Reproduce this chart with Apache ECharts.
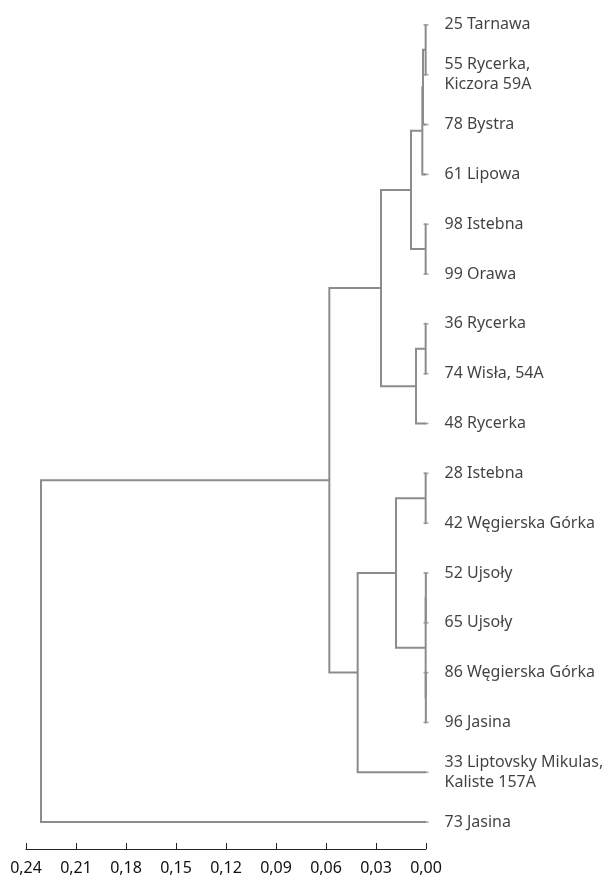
<!DOCTYPE html>
<html>
<head>
<meta charset="utf-8">
<script src="https://cdn.jsdelivr.net/npm/echarts@6/dist/echarts.min.js"></script>
<style>
  html, body { margin: 0; padding: 0; background: #fff; }
  #chart { width: 602px; height: 877px; }
</style>
</head>
<body>
<div id="chart"></div>
<script>
// leaves, top to bottom
var leaves = [
  '25 Tarnawa',
  '55 Rycerka,\nKiczora 59A',
  '78 Bystra',
  '61 Lipowa',
  '98 Istebna',
  '99 Orawa',
  '36 Rycerka',
  '74 Wisła, 54A',
  '48 Rycerka',
  '28 Istebna',
  '42 Węgierska Górka',
  '52 Ujsoły',
  '65 Ujsoły',
  '86 Węgierska Górka',
  '96 Jasina',
  '33 Liptovsky Mikulas,\nKaliste 157A',
  '73 Jasina'
];

// merges (linkage style): ids 0..16 are leaves, merge k becomes node 17 + k
var mergeLeft   = [0, 17, 18, 4, 19, 6, 22, 21, 9, 11, 13, 26, 25, 29, 24, 31];
var mergeRight  = [1, 2, 3, 5, 20, 7, 8, 23, 10, 12, 14, 27, 28, 15, 30, 16];
var mergeHeight = [0.0002, 0.0018, 0.0022, 0.0002, 0.009, 0.0002, 0.006, 0.027,
                   0.0002, 0.0001, 0.0001, 0.0002, 0.018, 0.041, 0.058, 0.231];

var xTicks = [0, 0.03, 0.06, 0.09, 0.12, 0.15, 0.18, 0.21, 0.24];

var lineColor = '#8c8c8c';
var textColor = '#111';
var font = 'Noto Sans';

// node positions: y = leaf order (or midpoint of children), h = merge height
var nodeY = [], nodeH = [];
for (var i = 0; i < leaves.length; i++) { nodeY.push(i); nodeH.push(0); }
var links = [];
for (var k = 0; k < mergeLeft.length; k++) {
  var a = mergeLeft[k], b = mergeRight[k];
  links.push([nodeH[a], nodeY[a], nodeH[b], nodeY[b], mergeHeight[k]]);
  nodeY.push((nodeY[a] + nodeY[b]) / 2);
  nodeH.push(mergeHeight[k]);
}
var leafPoints = leaves.map(function (name, i) { return [0, i]; });

var chart = echarts.init(document.getElementById('chart'));
chart.setOption({
  animation: false,
  grid: { left: 26, right: 176, top: -3, bottom: 28, containLabel: false },
  xAxis: {
    type: 'value',
    position: 'bottom',
    inverse: true,
    min: xTicks[0],
    max: xTicks[xTicks.length - 1],
    interval: 0.03,
    splitLine: { show: false },
    axisLine: { show: true, onZero: false, lineStyle: { color: '#222', width: 1 } },
    axisTick: { show: true, inside: true, length: 6, lineStyle: { color: '#222', width: 1 } },
    axisLabel: {
      color: textColor, fontFamily: font, fontSize: 16, margin: 11,
      formatter: function (v) { return v.toFixed(2).replace('.', ','); }
    }
  },
  yAxis: {
    type: 'value',
    inverse: true,
    min: -0.5,
    max: 16.54,
    show: false
  },
  series: [{
    type: 'custom',
    data: links,
    encode: { x: [0, 2, 4], y: [1, 3] },
    renderItem: function (params, api) {
      var hL = api.value(0), yL = api.value(1), hR = api.value(2), yR = api.value(3), h = api.value(4);
      return {
        type: 'polyline',
        shape: { points: [api.coord([hL, yL]), api.coord([h, yL]), api.coord([h, yR]), api.coord([hR, yR])] },
        style: { stroke: lineColor, lineWidth: 2, fill: null }
      };
    }
  }, {
    type: 'scatter',
    data: leafPoints,
    symbol: 'rect',
    symbolSize: [5, 1.5],
    itemStyle: { color: lineColor },
    label: {
      show: true,
      position: 'right',
      distance: 16,
      color: textColor,
      fontFamily: font,
      fontSize: 16,
      lineHeight: 20,
      formatter: function (p) { return leaves[p.dataIndex]; }
    },
    z: 3
  }]
});
</script>
</body>
</html>
